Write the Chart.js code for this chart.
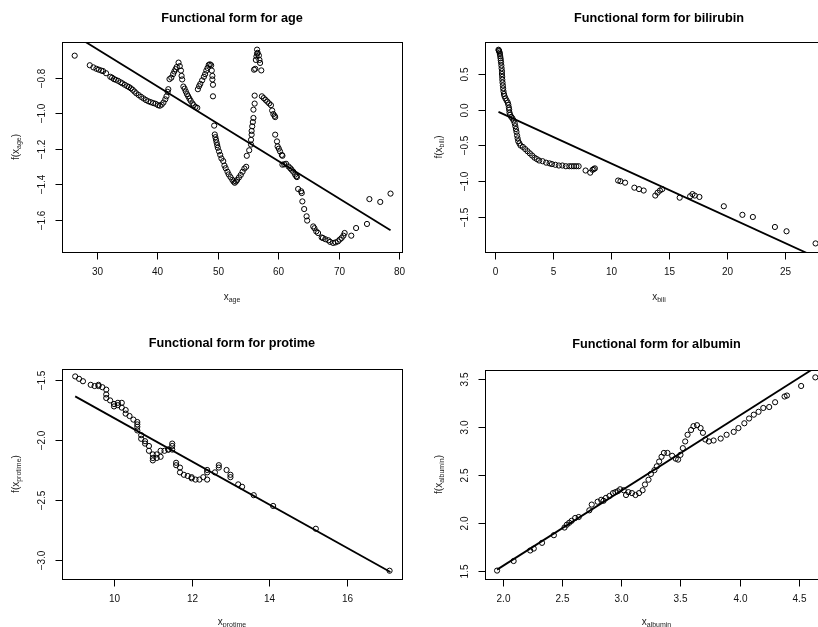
<!DOCTYPE html>
<html>
<head>
<meta charset="utf-8">
<script src="https://cdn.jsdelivr.net/npm/chart.js@4"></script>
<style>
  html, body { margin: 0; padding: 0; background: #fff; overflow: hidden; width: 818px; height: 627px; }
  canvas { position: absolute; }
</style>
</head>
<body>
<canvas id="age" width="409" height="313" style="left:0;top:0"></canvas>
<canvas id="bili" width="430" height="313" style="left:409px;top:0"></canvas>
<canvas id="protime" width="409" height="314" style="left:0;top:313px"></canvas>
<canvas id="albumin" width="430" height="314" style="left:409px;top:313px"></canvas>
<script>
// ---- age ----
const ageX = [26.3, 28.8, 29.4, 29.9, 30.3, 30.7, 31.0, 31.5, 32.2, 32.5, 32.8, 33.1, 33.5, 33.9, 34.2, 34.6, 35.0, 35.3, 35.6, 35.9, 36.2, 36.5, 36.9, 37.3, 37.7, 38.1, 38.5, 38.9, 39.3, 39.7, 40.1, 40.4, 40.7, 41.0, 41.3, 41.5, 41.7, 41.8,
  42.0, 42.3, 42.6, 42.8, 43.0, 43.2, 43.5, 43.7, 43.9, 44.0, 44.1, 44.3, 44.5, 44.7, 44.9, 45.1, 45.3, 45.5, 45.8, 46.0, 46.3, 46.6,
  46.7, 46.9, 47.1, 47.4, 47.7, 47.9, 48.1, 48.3, 48.5, 48.7, 48.9, 49.0, 49.1, 49.1, 49.2, 49.2,
  49.4, 49.5, 49.6, 49.7, 49.8, 49.9, 50.0, 50.2, 50.4, 50.6, 50.9, 51.1, 51.3, 51.6, 51.8, 52.1, 52.4, 52.6, 52.8, 53.0, 53.2, 53.5, 53.8, 54.1, 54.4, 54.7,
  54.8, 55.2, 55.5, 55.5, 55.6, 55.6, 55.7, 55.8, 55.9, 55.9, 56.1, 56.1, 56.0, 56.2, 56.3, 56.4, 56.5, 56.5, 56.6, 56.8, 56.9, 57.0, 57.2, 57.3, 57.6, 57.9, 58.2, 58.5, 58.8, 59.0, 59.2, 59.4, 59.5,
  59.5, 59.8, 59.9, 60.1, 60.3, 60.6, 60.7, 60.7, 61.0, 61.3, 61.7, 62.0, 62.2, 62.5, 62.8, 63.0, 63.1, 63.3, 63.8, 63.9, 64.0, 64.3, 64.7, 64.8, 65.8, 66.0, 66.3, 66.6, 67.2, 67.4, 67.8, 68.3, 68.6, 69.1, 69.5, 69.9, 70.2, 70.5, 70.8, 71.0, 72.1, 72.9, 74.7, 75.1, 76.9, 78.6];
const ageY = [-0.676, -0.730, -0.742, -0.750, -0.755, -0.760, -0.763, -0.775, -0.795, -0.800, -0.808, -0.812, -0.818, -0.826, -0.832, -0.840, -0.848, -0.853, -0.860, -0.868, -0.878, -0.888, -0.898, -0.908, -0.917, -0.926, -0.933, -0.938, -0.943, -0.947, -0.955, -0.958, -0.952, -0.940, -0.922, -0.905, -0.880, -0.865,
  -0.808, -0.800, -0.780, -0.765, -0.752, -0.740, -0.715, -0.735, -0.760, -0.790, -0.810, -0.850, -0.862, -0.878, -0.893, -0.905, -0.918, -0.930, -0.945, -0.955, -0.965, -0.970,
  -0.865, -0.848, -0.835, -0.815, -0.795, -0.780, -0.760, -0.745, -0.728, -0.725, -0.730, -0.760, -0.790, -0.810, -0.840, -0.905,
  -1.070, -1.120, -1.135, -1.150, -1.165, -1.180, -1.195, -1.215, -1.235, -1.255, -1.270, -1.295, -1.310, -1.330, -1.345, -1.360, -1.375, -1.385, -1.392, -1.385, -1.376, -1.362, -1.348, -1.330, -1.312, -1.302,
  -1.240, -1.209, -1.177, -1.150, -1.121, -1.100, -1.074, -1.050, -1.027, -0.980, -0.946, -0.901, -0.755, -0.750, -0.700, -0.680, -0.665, -0.642, -0.660, -0.675, -0.700, -0.717, -0.759, -0.905, -0.915, -0.925, -0.935, -0.945, -0.955, -0.985, -1.005, -1.015, -1.022,
  -1.121, -1.159, -1.187, -1.200, -1.215, -1.235, -1.240, -1.290, -1.288, -1.285, -1.300, -1.310, -1.318, -1.330, -1.346, -1.355, -1.360, -1.427, -1.440, -1.450, -1.497, -1.540, -1.581, -1.605, -1.638, -1.648, -1.666, -1.675, -1.700, -1.703, -1.710, -1.716, -1.725, -1.731, -1.728, -1.722, -1.712, -1.703, -1.690, -1.675, -1.690, -1.647, -1.624, -1.484, -1.500, -1.453];
const ageLineX = [26.3, 78.6];
const ageLineY = [-0.561, -1.660];
const ageXTicks = [30, 40, 50, 60, 70, 80];
const ageYTicks = [-1.6, -1.4, -1.2, -1.0, -0.8];

// ---- bilirubin ----
const biliX = [0.30, 0.33, 0.36, 0.40, 0.42, 0.45, 0.48, 0.50, 0.52, 0.55, 0.57, 0.60, 0.60, 0.62, 0.63, 0.65, 0.68, 0.70, 0.73, 0.77, 0.82, 0.90, 1.00, 1.10, 1.15, 1.20, 1.22, 1.25, 1.30, 1.40, 1.50, 1.60, 1.70, 1.75, 1.80, 1.85, 1.90, 1.95, 2.00, 2.10, 2.20, 2.40, 2.60, 2.80, 3.00, 3.20, 3.40, 3.60, 3.80, 4.10, 4.40, 4.70, 4.90, 5.20, 5.50, 5.80, 6.10, 6.40, 6.60, 6.80, 7.00, 7.20,
  7.8, 8.2, 8.4, 8.5, 8.6, 10.6, 10.8, 11.2, 12.0, 12.4, 12.8, 13.8, 14.0, 14.2, 14.4, 15.9, 16.8, 17.0, 17.2, 17.6, 19.7, 21.3, 22.2, 24.1, 25.1, 27.6];
const biliY = [0.84, 0.83, 0.82, 0.80, 0.78, 0.75, 0.72, 0.69, 0.66, 0.62, 0.58, 0.54, 0.50, 0.46, 0.42, 0.38, 0.34, 0.30, 0.26, 0.22, 0.19, 0.16, 0.13, 0.10, 0.07, 0.03, 0.00, -0.04, -0.07, -0.10, -0.12, -0.15, -0.19, -0.23, -0.27, -0.31, -0.36, -0.40, -0.44, -0.47, -0.50, -0.52, -0.55, -0.58, -0.61, -0.64, -0.67, -0.69, -0.71, -0.72, -0.74, -0.75, -0.76, -0.77, -0.78, -0.78, -0.79, -0.79, -0.79, -0.79, -0.79, -0.79,
  -0.85, -0.88, -0.84, -0.83, -0.82, -0.99, -1.00, -1.02, -1.09, -1.11, -1.13, -1.20, -1.16, -1.13, -1.11, -1.23, -1.21, -1.18, -1.20, -1.22, -1.35, -1.47, -1.50, -1.64, -1.70, -1.87];
const biliLineX = [0.3, 28.0];
const biliLineY = [-0.03, -2.09];
const biliXTicks = [0, 5, 10, 15, 20, 25];
const biliYTicks = [-1.5, -1.0, -0.5, 0.0, 0.5];

// ---- protime ----
const protimeX = [9.0, 9.1, 9.2, 9.4, 9.5, 9.6, 9.6, 9.7, 9.8, 9.8, 9.8, 9.9, 10.0, 10.0, 10.1, 10.1, 10.2, 10.2, 10.3, 10.3, 10.4, 10.5, 10.6, 10.6, 10.6, 10.6, 10.7, 10.7, 10.8, 10.8, 10.9, 10.9, 11.0, 11.0, 11.0, 11.1, 11.1, 11.2, 11.2, 11.3, 11.4, 11.4, 11.5, 11.5, 11.5,
  11.6, 11.6, 11.7, 11.7, 11.8, 11.9, 12.0, 12.0, 12.1, 12.2, 12.3, 12.4, 12.4, 12.4, 12.6, 12.7, 12.7, 12.9, 13.0, 13.0, 13.2, 13.3, 13.6, 14.1, 15.2, 17.1];
const protimeY = [-1.47, -1.49, -1.51, -1.54, -1.55, -1.55, -1.54, -1.56, -1.58, -1.62, -1.65, -1.67, -1.70, -1.72, -1.71, -1.69, -1.69, -1.73, -1.75, -1.78, -1.80, -1.83, -1.85, -1.87, -1.89, -1.92, -1.96, -1.99, -2.01, -2.03, -2.05, -2.09, -2.12, -2.15, -2.17, -2.15, -2.12, -2.09, -2.14, -2.09, -2.08, -2.08, -2.03, -2.05, -2.08,
  -2.19, -2.21, -2.23, -2.27, -2.29, -2.30, -2.32, -2.31, -2.33, -2.33, -2.31, -2.33, -2.27, -2.25, -2.27, -2.21, -2.23, -2.25, -2.29, -2.31, -2.37, -2.39, -2.46, -2.55, -2.74, -3.09];
const protimeLineX = [9.0, 17.12];
const protimeLineY = [-1.636, -3.10];
const protimeXTicks = [10, 12, 14, 16];
const protimeYTicks = [-3.0, -2.5, -2.0, -1.5];

// ---- albumin ----
const albuminX = [1.95, 2.09, 2.23, 2.26, 2.33, 2.43, 2.52, 2.54, 2.56, 2.58, 2.61, 2.64, 2.73, 2.75, 2.80, 2.83, 2.85, 2.87, 2.90, 2.93, 2.95, 2.97, 2.99, 3.02, 3.04, 3.06, 3.09, 3.12, 3.15, 3.18, 3.20, 3.23, 3.25, 3.28, 3.30, 3.32, 3.34, 3.36, 3.39, 3.43, 3.46, 3.48, 3.50, 3.52, 3.54, 3.56, 3.59, 3.61, 3.64, 3.67, 3.69, 3.71, 3.74, 3.78, 3.84, 3.89, 3.95, 3.99, 4.04, 4.08, 4.12, 4.16, 4.20, 4.25, 4.30, 4.38, 4.40, 4.52, 4.64];
const albuminY = [1.50, 1.60, 1.71, 1.73, 1.79, 1.87, 1.95, 1.98, 2.00, 2.02, 2.05, 2.06, 2.13, 2.19, 2.22, 2.24, 2.23, 2.26, 2.28, 2.31, 2.32, 2.33, 2.35, 2.34, 2.29, 2.32, 2.31, 2.29, 2.31, 2.34, 2.40, 2.45, 2.51, 2.55, 2.59, 2.64, 2.69, 2.73, 2.73, 2.70, 2.67, 2.66, 2.71, 2.78, 2.85, 2.92, 2.97, 3.01, 3.02, 2.99, 2.94, 2.87, 2.85, 2.86, 2.88, 2.92, 2.95, 2.99, 3.04, 3.09, 3.13, 3.16, 3.20, 3.21, 3.26, 3.32, 3.33, 3.43, 3.52];
const albuminLineX = [1.95, 4.75];
const albuminLineY = [1.51, 3.71];
const albuminXTicks = [2.0, 2.5, 3.0, 3.5, 4.0, 4.5];
const albuminYTicks = [1.5, 2.0, 2.5, 3.0, 3.5];

const FONT = '"Liberation Sans", Arial, Helvetica, sans-serif';

function fmt(v, dec) {
  return v.toFixed(dec).replace('-', '\u2212');
}

// draw "pre" + subscript + "post", centred on (0,0) baseline
function drawSubText(ctx, pre, sub, post) {
  ctx.font = '10px ' + FONT;
  const w1 = ctx.measureText(pre).width;
  const w3 = ctx.measureText(post).width;
  ctx.font = '7px ' + FONT;
  const w2 = ctx.measureText(sub).width;
  let x = -(w1 + w2 + w3) / 2;
  ctx.textAlign = 'left';
  ctx.textBaseline = 'alphabetic';
  ctx.font = '10px ' + FONT;
  ctx.fillText(pre, x, 0);
  x += w1;
  ctx.font = '7px ' + FONT;
  ctx.fillText(sub, x, 2);
  x += w2;
  ctx.font = '10px ' + FONT;
  ctx.fillText(post, x, 0);
}

// R base-graphics style box, ticks and labels
const rAxes = {
  id: 'rAxes',
  afterDraw(chart, args, o) {
    const { ctx, chartArea: a, scales: { x, y } } = chart;
    const L = Math.round(a.left) + 0.5, R = Math.round(a.right) + 0.5;
    const T = Math.round(a.top) + 0.5, B = Math.round(a.bottom) + 0.5;
    ctx.save();
    ctx.strokeStyle = '#000';
    ctx.lineWidth = 1;
    ctx.strokeRect(L, T, R - L, B - T);

    ctx.fillStyle = '#111';
    ctx.font = '10px ' + FONT;
    // x ticks
    ctx.textAlign = 'center';
    ctx.textBaseline = 'middle';
    o.xTicks.forEach(v => {
      const px = Math.round(x.getPixelForValue(v)) + 0.5;
      ctx.beginPath(); ctx.moveTo(px, B); ctx.lineTo(px, B + 7); ctx.stroke();
      ctx.fillText(fmt(v, o.xDec), px, B + 20);
    });
    // y ticks (labels parallel to axis)
    o.yTicks.forEach(v => {
      const py = Math.round(y.getPixelForValue(v)) + 0.5;
      ctx.beginPath(); ctx.moveTo(L, py); ctx.lineTo(L - 7, py); ctx.stroke();
      ctx.save();
      ctx.translate(L - 20, py);
      ctx.rotate(-Math.PI / 2);
      ctx.fillText(fmt(v, o.yDec), 0, 0);
      ctx.restore();
    });

    // main title
    const cx = (a.left + a.right) / 2, cy = (a.top + a.bottom) / 2;
    ctx.fillStyle = '#000';
    ctx.font = 'bold 12.7px ' + FONT;
    ctx.textAlign = 'center';
    ctx.textBaseline = 'middle';
    ctx.fillText(o.title, cx, a.top - o.titleOff);

    // axis titles
    ctx.fillStyle = '#222';
    ctx.save();
    ctx.translate(cx, B + o.xTitleOff);
    drawSubText(ctx, 'x', o.sub, '');
    ctx.restore();
    ctx.save();
    ctx.translate(L - 44, cy);
    ctx.rotate(-Math.PI / 2);
    drawSubText(ctx, 'f(x', o.sub, ')');
    ctx.restore();
    ctx.restore();
  }
};

function zip(xs, ys) {
  return xs.map((v, i) => ({ x: v, y: ys[i] }));
}

function makePanel(id, p) {
  return new Chart(document.getElementById(id), {
    type: 'scatter',
    data: {
      datasets: [
        {
          // fitted line, drawn on top of the points
          data: zip(p.lineX, p.lineY),
          showLine: true,
          pointRadius: 0,
          borderColor: '#000',
          borderWidth: 1.8,
        },
        {
          data: zip(p.xs, p.ys),
          pointRadius: 2.6,
          pointBorderWidth: 1,
          borderColor: '#000',
          backgroundColor: 'rgba(0,0,0,0)',
        },
      ],
    },
    options: {
      responsive: false,
      animation: false,
      layout: { padding: p.pad },
      scales: {
        x: { type: 'linear', display: false, min: p.xMin, max: p.xMax },
        y: { type: 'linear', display: false, min: p.yMin, max: p.yMax },
      },
      plugins: {
        legend: { display: false },
        tooltip: { enabled: false },
        rAxes: {
          title: p.title, sub: p.sub, titleOff: p.titleOff, xTitleOff: p.xTitleOff,
          xTicks: p.xTicks, yTicks: p.yTicks, xDec: p.xDec, yDec: p.yDec,
        },
      },
    },
    plugins: [rAxes],
  });
}

makePanel('age', {
  title: 'Functional form for age', sub: 'age', titleOff: 24, xTitleOff: 47,
  xs: ageX, ys: ageY, lineX: ageLineX, lineY: ageLineY,
  xTicks: ageXTicks, yTicks: ageYTicks, xDec: 0, yDec: 1,
  xMin: 24.2, xMax: 80.5, yMin: -1.782, yMax: -0.599,
  pad: { left: 62, top: 42, right: 7, bottom: 61 },
});

makePanel('bili', {
  title: 'Functional form for bilirubin', sub: 'bili', titleOff: 24, xTitleOff: 47,
  xs: biliX, ys: biliY, lineX: biliLineX, lineY: biliLineY,
  xTicks: biliXTicks, yTicks: biliYTicks, xDec: 0, yDec: 1,
  xMin: -0.86, xMax: 29.1, yMin: -1.99, yMax: 0.948,
  pad: { left: 76, top: 42, right: 6, bottom: 61 },
});

makePanel('protime', {
  title: 'Functional form for protime', sub: 'protime', titleOff: 26, xTitleOff: 45,
  xs: protimeX, ys: protimeY, lineX: protimeLineX, lineY: protimeLineY,
  xTicks: protimeXTicks, yTicks: protimeYTicks, xDec: 0, yDec: 1,
  xMin: 8.66, xMax: 17.42, yMin: -3.159, yMax: -1.408,
  pad: { left: 62, top: 56, right: 7, bottom: 48 },
});

makePanel('albumin', {
  title: 'Functional form for albumin', sub: 'albumin', titleOff: 26, xTitleOff: 45,
  xs: albuminX, ys: albuminY, lineX: albuminLineX, lineY: albuminLineY,
  xTicks: albuminXTicks, yTicks: albuminYTicks, xDec: 1, yDec: 1,
  xMin: 1.848, xMax: 4.747, yMin: 1.412, yMax: 3.597,
  pad: { left: 76, top: 57, right: 11, bottom: 48 },
});
</script>
</body>
</html>
